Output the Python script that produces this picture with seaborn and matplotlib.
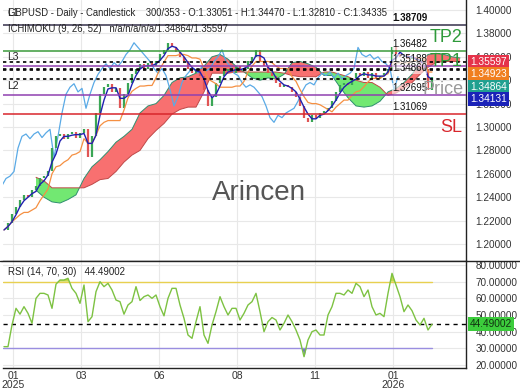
import numpy as np
import pandas as pd
import matplotlib
matplotlib.use("Agg")
import matplotlib.pyplot as plt
from matplotlib.lines import Line2D
import seaborn as sns

# --- dados (1 ponto ~ 3 barras diárias) ---
closes = [1.212, 1.218, 1.226, 1.232, 1.238, 1.242, 1.240, 1.246, 1.250, 1.256,
          1.258, 1.262, 1.282, 1.292, 1.294, 1.290, 1.294, 1.296, 1.291, 1.295,
          1.298, 1.274, 1.292, 1.312, 1.328, 1.334, 1.337, 1.330, 1.333, 1.316,
          1.328, 1.338, 1.345, 1.350, 1.354, 1.350, 1.355, 1.352, 1.356, 1.362,
          1.366, 1.372, 1.368, 1.364, 1.360, 1.356, 1.350, 1.346, 1.350, 1.344,
          1.332, 1.318, 1.326, 1.338, 1.344, 1.348, 1.350, 1.346, 1.352, 1.348,
          1.350, 1.356, 1.360, 1.366, 1.356, 1.352, 1.346, 1.344, 1.338, 1.334,
          1.336, 1.334, 1.330, 1.326, 1.318, 1.308, 1.304, 1.310, 1.308, 1.312,
          1.314, 1.316, 1.322, 1.330, 1.336, 1.338, 1.336, 1.342, 1.346, 1.344,
          1.347, 1.342, 1.346, 1.341, 1.344, 1.346, 1.350, 1.368, 1.362, 1.360,
          1.362, 1.358, 1.360, 1.356, 1.354, 1.350, 1.332, 1.343]

rsi = [31, 31, 44, 54, 50.5, 55, 51, 45, 60, 63,
       63, 62, 54, 68.5, 71, 71, 72, 66, 63, 57,
       68, 46, 49, 64, 70, 67, 69, 65, 59, 58,
       50.5, 56, 58, 67, 58.7, 61, 62, 60, 62, 55,
       49.5, 60, 66, 66, 56, 48, 38, 36, 46, 55,
       38, 33, 44, 52, 61, 55, 50, 54, 54, 47,
       51, 56, 58, 63, 52, 40, 46, 48.5, 47, 41,
       45, 50, 46, 41, 35, 25, 35, 40, 41, 38,
       38, 50, 55, 63, 63, 62, 65, 63, 69, 67,
       61, 65, 55, 50, 51, 49, 63, 75, 68, 61,
       52, 56, 52.6, 47, 44, 48, 41, 44.49]

# nuvem (senkou A / B), um ponto a cada 2 amostras, já deslocada para frente
span_a = [1.246, 1.240, 1.236, 1.235, 1.238, 1.242, 1.256, 1.266, 1.272, 1.279,
          1.287, 1.292, 1.298, 1.312, 1.318, 1.320, 1.327, 1.338, 1.342, 1.343,
          1.346, 1.352, 1.360, 1.362, 1.358, 1.352, 1.347, 1.342, 1.340, 1.342,
          1.341, 1.345, 1.355, 1.356, 1.354, 1.351, 1.344, 1.344, 1.334, 1.325,
          1.318, 1.317, 1.318, 1.322, 1.330, 1.333, 1.338, 1.345, 1.355, 1.362,
          1.363, 1.362, 1.360, 1.359]
span_b = [1.257, 1.254, 1.248, 1.248, 1.248, 1.248, 1.248, 1.251, 1.255, 1.256,
          1.262, 1.270, 1.276, 1.280, 1.290, 1.297, 1.303, 1.311, 1.315, 1.317,
          1.317, 1.330, 1.346, 1.346, 1.346, 1.347, 1.347, 1.347, 1.347, 1.347,
          1.347, 1.346, 1.344, 1.343, 1.343, 1.343, 1.347, 1.347, 1.345, 1.343,
          1.340, 1.338, 1.338, 1.334, 1.327, 1.329, 1.333, 1.338, 1.345, 1.351,
          1.355, 1.356, 1.356, 1.356]

level_names = ["L1", "TP2", "L3", "", "L2", "SL"]
level_prices = [1.38709, 1.36482, 1.35188, 1.34860, 1.32695, 1.31069]
level_colors = ["#35304a", "#3a9a3a", "#9040b0", None, "#9040b0", "#d8262c"]

current_names = ["Senkou B", "Kijun", "Senkou A", "Tenkan"]
current_values = [1.35597, 1.34923, 1.34864, 1.34131]
current_colors = ["#e5334a", "#f07f1f", "#20a090", "#1a22b8"]
rsi_now = 44.49002

tick_labels = ["01\n2025", "03", "06", "08", "11", "01\n2026"]
tick_pos = [2.25, 19.25, 38.75, 58.25, 77.75, 97.25]

TITULO = "GBPUSD - Daily - Candlestick    300/353 - O:1.33051 - H:1.34470 - L:1.32810 - C:1.34335"
ICHI = "ICHIMOKU (9, 26, 52)   n/a/n/a/n/a/1.34864/1.35597"
RSI_TXT = "RSI (14, 70, 30)   44.49002"

# --- estilo ---
sns.set_style("white")
plt.rcParams['font.family'] = ['Liberation Sans', 'DejaVu Sans']

W, H = 520, 390


def fx(px):
    return px / W


def fy(py):
    return 1 - py / H


fig = plt.figure(figsize=(5.2, 3.9), dpi=100)
ax = fig.add_axes([fx(3), fy(261), fx(466) - fx(3), fy(0) - fy(261)])
ax2 = fig.add_axes([fx(3), fy(368), fx(466) - fx(3), fy(261) - fy(368)], sharex=ax)

x = np.arange(len(closes))
s = pd.Series(closes)
tenkan = (s.rolling(3, min_periods=1).max() + s.rolling(3, min_periods=1).min()) / 2
kijun = (s.rolling(9, min_periods=1).max() + s.rolling(9, min_periods=1).min()) / 2
shift = 8.5
xc = np.arange(8, 8 + 2 * len(span_a), 2)
a = np.array(span_a)
b = np.array(span_b)

# nuvem
ax.fill_between(xc, a, b, where=a >= b, interpolate=True, color="#f87070", lw=0, zorder=1)
ax.fill_between(xc, a, b, where=a < b, interpolate=True, color="#72e872", lw=0, zorder=1)
sns.lineplot(x=xc, y=a, ax=ax, color="#2f8f6f", lw=0.7, zorder=2)
sns.lineplot(x=xc, y=b, ax=ax, color="#c04848", lw=0.7, zorder=2)

# chikou
sns.lineplot(x=x - shift, y=closes, ax=ax, color="#5aaae6", lw=0.9, zorder=3)

# candles
opens = [closes[0]] + closes[:-1]
for i, (o, c) in enumerate(zip(opens, closes)):
    col = "#3aa655" if c >= o else "#e05555"
    ax.vlines(i, min(o, c), max(o, c), color=col, lw=1.6, zorder=4)

sns.lineplot(x=x, y=kijun, ax=ax, color="#f59042", lw=0.9, zorder=5)
sns.lineplot(x=x, y=tenkan, ax=ax, color="#2020b0", lw=1.0, zorder=5)

# níveis
for nome, p, cor in zip(level_names, level_prices, level_colors):
    if cor:
        ax.axhline(p, color=cor, lw=1.1, zorder=6)
    ax.annotate(f"{p:.5f}", (97, p), xytext=(0, 1.5), textcoords="offset points",
                fontsize=7, va="bottom" if nome else "center", color="#111",
                fontweight="bold" if nome == "L1" else "normal",
                bbox=dict(boxstyle="square,pad=0.05", fc="white", ec="none", alpha=0.6), zorder=8)
    if nome.startswith("L"):
        ax.annotate(nome, (-0.25, p), xytext=(3, 3 if nome != "L1" else 5), textcoords="offset points",
                    fontsize=7.5, va="bottom", color="#222", zorder=8)
for p in current_values:
    ax.axhline(p, color="black", lw=1.2, ls=(0, (2, 2)), zorder=6)

ax.set_xlim(-0.25, 115.5)
ax.set_ylim(1.18547, 1.40855)
ax.yaxis.tick_right()
yt = np.arange(1.20, 1.4001, 0.02)
ax.set_yticks(yt)
ax.set_yticklabels([f"{v:.5f}" for v in yt])
ax.set_xticks(tick_pos)
ax.tick_params(axis="y", length=0, pad=7, labelsize=7.2, colors="#333")
ax.tick_params(axis="x", length=0, labelbottom=False)
ax.grid(True, color="#e8e8e8", lw=0.8)
ax.set_axisbelow(True)
ax.set_xlabel("")
ax.set_ylabel("")

# RSI
ax2.fill_between(x, 70, rsi, where=np.array(rsi) > 70, interpolate=True, color="#c8d84a", lw=0)
ax2.fill_between(x, 30, rsi, where=np.array(rsi) < 30, interpolate=True, color="#7070d0", lw=0)
ax2.plot([-0.25, x[-1]], [70, 70], color="#e8d050", lw=1)
ax2.plot([-0.25, x[-1]], [30, 30], color="#9a8ee0", lw=1)
ax2.axhline(rsi_now, color="black", lw=1, ls=(0, (3, 3)))
sns.lineplot(x=x, y=rsi, ax=ax2, color="#7dc242", lw=1.0)
ax2.set_ylim(18.2, 82.4)
ax2.yaxis.tick_right()
ax2.set_yticks(range(20, 81, 10))
ax2.set_yticklabels([f"{v:.5f}" for v in range(20, 81, 10)])
ax2.set_xticks(tick_pos)
ax2.set_xticklabels(tick_labels, linespacing=0.9)
ax2.tick_params(axis="y", length=0, pad=7, labelsize=7.2, colors="#333")
ax2.tick_params(axis="x", length=0, pad=2, labelsize=7.5, colors="#333")
ax2.grid(True, color="#e8e8e8", lw=0.8)
ax2.set_axisbelow(True)
ax2.set_xlabel("")
ax2.set_ylabel("")

for eixo in (ax, ax2):
    for lado in ("left", "top"):
        eixo.spines[lado].set_visible(False)
    for lado in ("right", "bottom"):
        eixo.spines[lado].set_color("#222")
        eixo.spines[lado].set_linewidth(1)

fig.add_artist(Line2D([0, 1], [fy(261), fy(261)], color="#222", lw=1))

# textos
fig.text(fx(8), fy(13), TITULO, fontsize=6.85, va="center", color="#222")
fig.text(fx(8), fy(29), ICHI, fontsize=6.85, va="center", color="#222")
fig.text(fx(8), fy(272), RSI_TXT, fontsize=7, va="center", color="#222")
fig.text(fx(259), fy(193), "Arincen", fontsize=20, color="#555555", ha="center", va="center")
fig.text(fx(446), fy(38), "TP2", fontsize=13, color="#2e9a3a", ha="center", va="center")
fig.text(fx(446), fy(62), "TP1", fontsize=13, color="#2e9a3a", ha="center", va="center")
fig.text(fx(443), fy(90), "Price", fontsize=13, color="#9a9a9a", ha="center", va="center")
fig.text(fx(451), fy(127), "SL", fontsize=13, color="#d8262c", ha="center", va="center")

for i, (v, cor) in enumerate(zip(current_values, current_colors)):
    fig.text(fx(470), fy(62 + 12.4 * i), f"{v:.5f}", fontsize=7.3, color="white", va="center",
             bbox=dict(boxstyle="square,pad=0.22", fc=cor, ec="none"), zorder=10)
fig.text(fx(470), fy(324), f"{rsi_now:.5f}", fontsize=7.3, color="#113311", va="center",
         bbox=dict(boxstyle="square,pad=0.22", fc="#3ccc3c", ec="none"), zorder=10)

fig.savefig("out.png", dpi=100)
